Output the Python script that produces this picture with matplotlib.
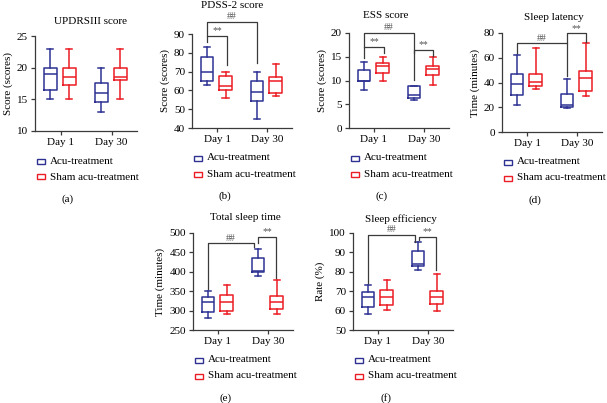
import matplotlib
matplotlib.use("Agg")
import matplotlib.pyplot as plt
from matplotlib.patches import Rectangle

plt.rcParams['font.family'] = ['Liberation Serif', 'DejaVu Serif']

W, H = 607, 403
BLUE = '#2e3192'
RED = '#ec1c24'
INK = '#3a3a3a'

groups = ['Day 1', 'Day 30']
legend_labels = ['Acu-treatment', 'Sham acu-treatment']
letters = ['(a)', '(b)', '(c)', '(d)', '(e)', '(f)']
titles = ['UPDRSIII score', 'PDSS-2 score', 'ESS score', 'Sleep latency',
          'Total sleep time', 'Sleep efficiency']
ylabels = ['Score (scores)', 'Score (scores)', 'Score (scores)',
           'Time (minutes)', 'Time (minutes)', 'Rate (%)']
ylims = [(10, 25), (40, 90), (0, 20), (0, 80), (250, 500), (50, 100)]
ysteps = [5, 10, 5, 20, 50, 10]

# [whisker low, q1, median, q3, whisker high] for Day 1 and Day 30
updrs_acu = [[15, 16.5, 19, 20, 23], [13, 14.5, 16, 17.5, 20]]
updrs_sham = [[15, 17.2, 18.5, 20, 23], [15, 18, 18.5, 20, 23]]
pdss_acu = [[63, 65, 70, 78, 83], [45, 54.5, 59, 65, 70]]
pdss_sham = [[56, 60, 62.5, 67.5, 70], [57, 58.5, 65, 67, 74]]
ess_acu = [[8, 9.8, 10, 12.3, 14], [6, 6.4, 7, 8.8, 8.8]]
ess_sham = [[10, 11.5, 13, 13.7, 15], [9, 11.2, 12.5, 13, 15]]
latency_acu = [[22, 30, 39, 47, 62], [19, 20, 22, 31, 43]]
latency_sham = [[35, 37.5, 40.5, 47, 68], [29, 33, 44, 49, 72]]
tst_acu = [[280, 297, 322, 335, 350], [390, 400, 403, 435, 460]]
tst_sham = [[290, 300, 322, 340, 365], [290, 303, 323, 337, 378]]
eff_acu = [[58, 62, 67, 69.5, 73], [81, 83, 84, 90.5, 95.5]]
eff_sham = [[60.5, 63, 67, 70.5, 76], [60, 63.5, 67, 70, 79]]

acu = [updrs_acu, pdss_acu, ess_acu, latency_acu, tst_acu, eff_acu]
sham = [updrs_sham, pdss_sham, ess_sham, latency_sham, tst_sham, eff_sham]

# significance brackets: x left, x right, y top, y left end, y right end, mark
brackets = [
    [],
    [(0.8, 1.2, 89, 85.5, 73.5, '**'), (0.8, 1.8, 96.5, 89, 74.5, '##')],
    [(0.8, 1.2, 17.1, 14.7, 15.7, '**'), (0.8, 1.8, 20.1, 17.1, 10.1, '##'),
     (1.8, 2.17, 16.4, 15.7, 15.2, '**')],
    [(0.8, 1.8, 71.7, 63.6, 45, '##'), (1.8, 2.17, 79.7, 71.7, 73, '**')],
    [(0.8, 1.72, 473, 355, 463, '##'), (1.8, 2.16, 490, 473, 384, '**')],
    [(0.8, 1.74, 99, 74, 95.5, '##'), (1.82, 2.16, 98.1, 96.4, 81, '**')],
]

# layout in pixels: left, top, right, bottom of each plot area
axes_px = [(35, 36, 137, 131), (192, 34, 292, 128), (349, 33, 449, 128),
           (502, 33, 602, 132), (193, 233, 293, 330), (353, 233, 453, 330)]
title_xy = [(91, 22), (232, 6), (386, 15), (554, 17), (245, 218), (401, 219)]

fig = plt.figure(figsize=(W / 100, H / 100), dpi=100)


def stats_of(rows):
    return [dict(whislo=r[0], q1=r[1], med=r[2], q3=r[3], whishi=r[4],
                 fliers=[], label='') for r in rows]


for i in range(6):
    l, t, r, b = axes_px[i]
    ax = fig.add_axes([l / W, 1 - b / H, (r - l) / W, (b - t) / H])
    for rows, color, off in ((acu[i], BLUE, -0.2), (sham[i], RED, 0.17)):
        lp = dict(color=color, lw=1.1)
        ax.bxp(stats_of(rows), positions=[1 + off, 2 + off], widths=0.25,
               capwidths=0.12, showfliers=False, manage_ticks=False,
               boxprops=lp, whiskerprops=lp, capprops=lp, medianprops=lp)
    ax.set_xlim(0.5, 2.5)
    ax.set_xticks([1, 2], groups)
    lo, hi = ylims[i]
    ax.set_ylim(lo, hi)
    ax.set_yticks(range(lo, hi + 1, ysteps[i]))
    ax.set_ylabel(ylabels[i], fontsize=8, labelpad=3)
    for s in ('top', 'right'):
        ax.spines[s].set_visible(False)
    for s in ('left', 'bottom'):
        ax.spines[s].set_color(INK)
        ax.spines[s].set_linewidth(0.9)
    ax.tick_params(direction='out', length=3, width=0.9, color=INK,
                   labelsize=8, pad=2)

    for x1, x2, ytop, y1, y2, mark in brackets[i]:
        ax.plot([x1, x1, x2, x2], [y1, ytop, ytop, y2], color=INK, lw=0.9,
                clip_on=False)
        ax.annotate(mark, ((x1 + x2) / 2, ytop), xytext=(0, 0.5),
                    textcoords='offset points', ha='center', va='bottom',
                    fontsize=7, color='#555555', annotation_clip=False)

    tx, ty = title_xy[i]
    fig.text(tx / W, 1 - ty / H, titles[i], ha='center', va='center',
             fontsize=8)

    for k, (lab, color) in enumerate(zip(legend_labels, (BLUE, RED))):
        yc = b + 30 + 16 * k
        fig.add_artist(Rectangle(((l + 2) / W, 1 - (yc + 2.5) / H), 8 / W,
                                 5 / H, fill=False, edgecolor=color, lw=1,
                                 transform=fig.transFigure))
        fig.text((l + 15) / W, 1 - yc / H, lab, ha='left', va='center',
                 fontsize=8)
    fig.text((l + 33) / W, 1 - (b + 68) / H, letters[i], ha='center',
             va='center', fontsize=8)

fig.savefig('out.png', dpi=100)
